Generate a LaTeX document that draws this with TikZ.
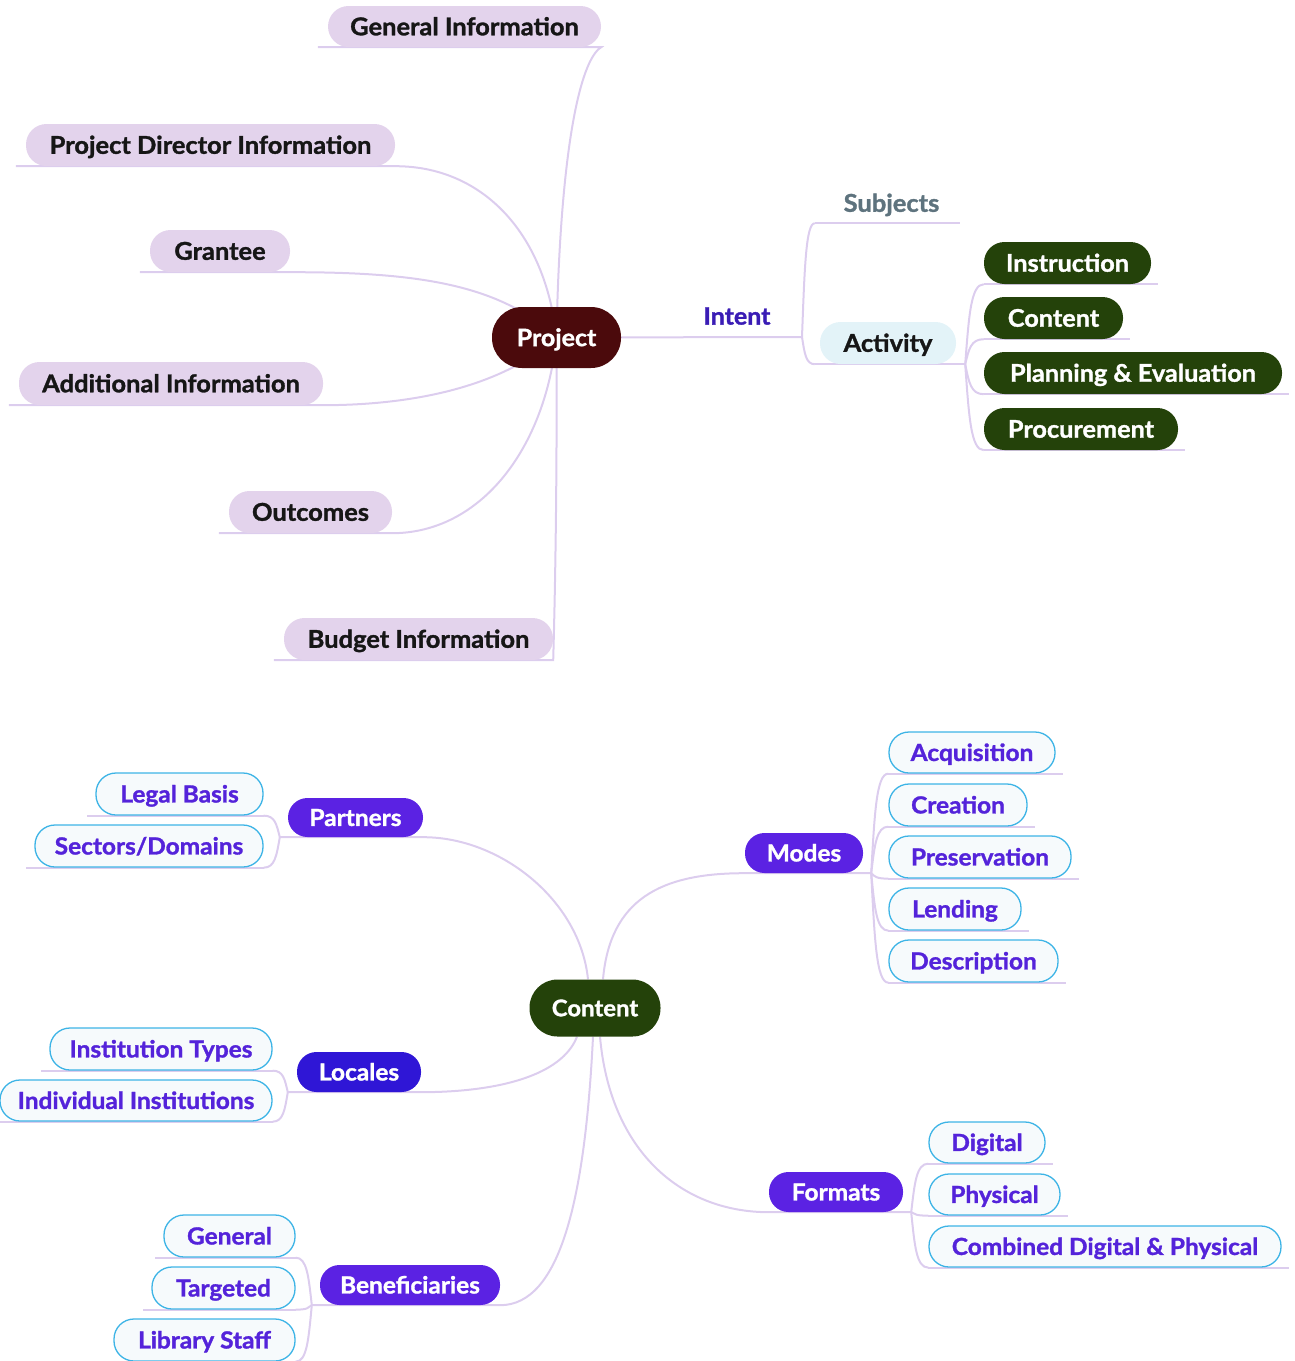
\documentclass[tikz,border=0pt]{standalone}
\usepackage{fontspec}
\setmainfont{Lato}[FakeStretch=1.04, BoldFeatures={FakeBold=1.3}]
\usetikzlibrary{calc,backgrounds}
\definecolor{lineC}{HTML}{DCCDEE}
\definecolor{lavC}{HTML}{E3D3EC}
\definecolor{projC}{HTML}{4B0A0C}
\definecolor{greenC}{HTML}{24420A}
\definecolor{purpC}{HTML}{5B22E3}
\definecolor{locC}{HTML}{2F16D6}
\definecolor{leafF}{HTML}{F6FAFC}
\definecolor{leafD}{HTML}{3DB4E6}
\definecolor{leafT}{HTML}{5423DA}
\definecolor{intentC}{HTML}{3A1CB5}
\definecolor{subjC}{HTML}{5E737E}
\definecolor{actC}{HTML}{E3F3F8}
\definecolor{inkC}{HTML}{161616}
\newcommand\myfz[1]{\bfseries\fontsize{#1}{#1}\selectfont}
\newcommand\brk[2]{\draw[conn] let \p1=(#1), \p2=(#2) in (\p1) .. controls ({\x1+0.2*(\x2-\x1)},{\y1+0.6*(\y2-\y1)}) and ({\x1+0.3*(\x2-\x1)},{\y2}) .. (\p2);}
\begin{document}
\begin{tikzpicture}[x=1pt,y=-1pt,
  every node/.style={inner sep=0pt, text depth=0pt},
  fsz/.style={font=\myfz{#1}, text height={0.717*#1pt}},
  conn/.style={draw=lineC, line width=2pt},
  lavn/.style={fill=lavC, text=inkC, rounded corners=20.5pt, fsz=24.5},
  projn/.style={fill=projC, text=white, rounded corners=30pt, fsz=24},
  greenn/.style={fill=greenC, text=white, rounded corners=20.5pt, fsz=24.3},
  centern/.style={fill=greenC, text=white, rounded corners=28pt, fsz=23},
  actn/.style={fill=actC, text=inkC, rounded corners=20.5pt, fsz=24.5},
  purpn/.style={fill=purpC, text=white, rounded corners=19.5pt, fsz=23.5},
  locn/.style={fill=locC, text=white, rounded corners=19.5pt, fsz=23.5},
  leafn/.style={fill=leafF, draw=leafD, line width=1.3pt, text=leafT, rounded corners=20pt, fsz=23.5},
]
\useasboundingbox (0,0) rectangle (1295,1361);

% ---------- Project map ----------
\node[projn, minimum width=129pt, minimum height=61pt] (proj) at (556.5,337.5) {Project};
\node[lavn, minimum width=273pt, minimum height=41pt] (gi) at (464.5,26.5) {General Information};
\node[lavn, minimum width=369pt, minimum height=42pt] (pdi) at (210.5,145) {Project Director Information};
\node[lavn, minimum width=140pt, minimum height=42pt] (gr) at (220,251) {Grantee};
\node[lavn, minimum width=304pt, minimum height=43pt] (ai) at (171,383.5) {Additional Information};
\node[lavn, minimum width=163pt, minimum height=42pt] (out) at (310.5,512) {Outcomes};
\node[lavn, minimum width=269pt, minimum height=42pt] (bi) at (418.5,639) {Budget Information};

\node[fsz=24, text=intentC] (intent) at (737,316) {Intent};
\coordinate (jint) at (802,337);
\node[fsz=24.5, text=subjC, minimum width=145pt, minimum height=40pt] (subj) at (887.5,203) {\hspace*{8pt}Subjects};
\node[actn, minimum width=136pt, minimum height=42pt] (act) at (888,343) {Activity};
\coordinate (jact) at ([xshift=9pt]act.south east);

\node[greenn, minimum width=167pt, minimum height=42pt] (instr) at (1067.5,263) {Instruction};
\node[greenn, minimum width=139pt, minimum height=42pt] (gcont) at (1053.5,318) {Content};
\node[greenn, minimum width=298pt, minimum height=42pt] (pe) at (1133,373) {Planning \& Evaluation};
\node[greenn, minimum width=194pt, minimum height=42pt] (proc) at (1081,429) {Procurement};

% ---------- Content map ----------
\node[centern, minimum width=131pt, minimum height=57pt] (content) at (595,1008) {Content};

\node[purpn, minimum width=135pt, minimum height=39pt] (partners) at (355.5,817.5) {Partners};
\node[leafn, minimum width=167pt, minimum height=42pt] (legal) at (179.5,794) {Legal Basis};
\node[leafn, minimum width=228pt, minimum height=42pt] (sectors) at (149,846) {Sectors/Domains};
\coordinate (jpart) at ([xshift=-8pt]partners.south west);

\node[locn, minimum width=124pt, minimum height=40pt] (locales) at (359,1072) {Locales};
\node[leafn, minimum width=222pt, minimum height=42pt] (insttypes) at (161,1049) {Institution Types};
\node[leafn, minimum width=272pt, minimum height=41pt] (indiv) at (136,1100.5) {Individual Institutions};
\coordinate (jloc) at ([xshift=-9pt]locales.south west);

\node[purpn, minimum width=180pt, minimum height=40pt] (benef) at (410,1285) {Beneficiaries};
\node[leafn, minimum width=131pt, minimum height=42pt] (general) at (229.5,1236) {General};
\node[leafn, minimum width=143pt, minimum height=42pt] (targeted) at (223.5,1288) {Targeted};
\node[leafn, minimum width=181pt, minimum height=42pt] (libstaff) at (204.5,1340) {Library Staff};
\coordinate (jben) at ([xshift=-8pt]benef.south west);

\node[purpn, minimum width=118pt, minimum height=40pt] (modes) at (804,853) {Modes};
\node[leafn, minimum width=166pt, minimum height=41pt] (acq) at (972,752.5) {Acquisition};
\node[leafn, minimum width=138pt, minimum height=42pt] (creation) at (958,805) {Creation};
\node[leafn, minimum width=182pt, minimum height=42pt] (pres) at (980,857) {Preservation};
\node[leafn, minimum width=132pt, minimum height=42pt] (lending) at (955,909) {Lending};
\node[leafn, minimum width=169pt, minimum height=42pt] (desc) at (973.5,961) {Description};
\coordinate (jmod) at ([xshift=8pt]modes.south east);

\node[purpn, minimum width=134pt, minimum height=40pt] (formats) at (836,1192) {Formats};
\node[leafn, minimum width=116pt, minimum height=41pt] (digital) at (987,1142.5) {Digital};
\node[leafn, minimum width=131pt, minimum height=41pt] (physical) at (994.5,1194.5) {Physical};
\node[leafn, minimum width=352pt, minimum height=41pt] (combined) at (1105,1246.5) {Combined Digital \& Physical};
\coordinate (jfor) at ([xshift=8pt]formats.south east);

% ---------- connectors ----------
\begin{pgfonlayer}{background}
% project children
\draw[conn] ([xshift=-10pt]gi.south west) -- (gi.south east) .. controls (580,60) and (560,150) .. (proj.center);
\draw[conn] ([xshift=-10pt]pdi.south west) -- (pdi.south east) .. controls (480,166) and (545,230) .. (proj.center);
\draw[conn] ([xshift=-10pt]gr.south west) -- (gr.south east) .. controls (420,272) and (500,285) .. (proj.center);
\draw[conn] ([xshift=-10pt]ai.south west) -- (ai.south east) .. controls (430,405) and (510,380) .. (proj.center);
\draw[conn] ([xshift=-10pt]out.south west) -- (out.south east) .. controls (480,533) and (545,450) .. (proj.center);
\draw[conn] ([xshift=-10pt]bi.south west) -- (bi.south east) .. controls (556,560) and (557,450) .. (proj.center);
\draw[conn] (proj.center) -- (jint);
\brk{jint}{subj.south west}
\draw[conn] (subj.south west) -- (subj.south east);
\brk{jint}{[xshift=-5pt]act.south west}
\draw[conn] ([xshift=-5pt]act.south west) -- (jact);
\foreach \nn in {instr,gcont,pe,proc}{
  \brk{jact}{\nn.south west}
  \draw[conn] (\nn.south west) -- ([xshift=7pt]\nn.south east);
}
% content children
\draw[conn] (jpart) -- (partners.south east) .. controls (500,837) and (580,900) .. ([xshift=-7pt]content.north);
\draw[conn] ([xshift=8pt]content.north) .. controls (610,900) and (660,873) .. (modes.south west) -- (jmod);
\draw[conn] (jloc) -- (locales.south east) .. controls (500,1092) and (562,1075) .. ([xshift=-18pt]content.south);
\draw[conn] (jben) -- (benef.south east) .. controls (560,1305) and (585,1200) .. ([xshift=-2pt]content.south);
\draw[conn] ([xshift=5pt]content.south) .. controls (610,1150) and (680,1212) .. (formats.south west) -- (jfor);
\foreach \nn in {legal,sectors}{
  \brk{jpart}{\nn.south east}
  \draw[conn] ([xshift=-8pt]\nn.south west) -- (\nn.south east);
}
\foreach \nn in {insttypes,indiv}{
  \brk{jloc}{\nn.south east}
  \draw[conn] ([xshift=-8pt]\nn.south west) -- (\nn.south east);
}
\foreach \nn in {general,targeted,libstaff}{
  \brk{jben}{\nn.south east}
  \draw[conn] ([xshift=-8pt]\nn.south west) -- (\nn.south east);
}
\foreach \nn in {acq,creation,pres,lending,desc}{
  \brk{jmod}{\nn.south west}
  \draw[conn] (\nn.south west) -- ([xshift=7pt]\nn.south east);
}
\foreach \nn in {digital,physical,combined}{
  \brk{jfor}{\nn.south west}
  \draw[conn] (\nn.south west) -- ([xshift=7pt]\nn.south east);
}
\end{pgfonlayer}
\end{tikzpicture}
\end{document}
